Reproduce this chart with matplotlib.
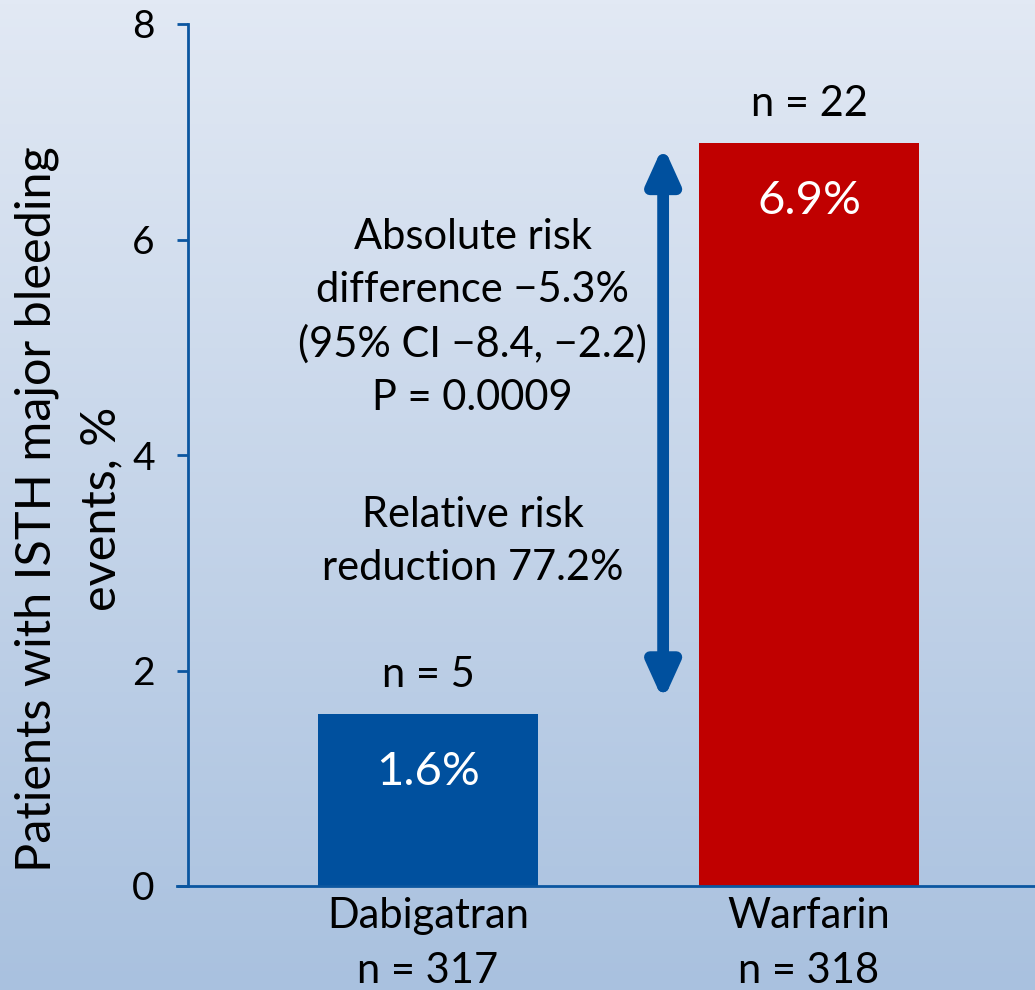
import numpy as np
import matplotlib
matplotlib.use("Agg")
import matplotlib.pyplot as plt

# data
groups = ["Dabigatran", "Warfarin"]
group_n = [317, 318]
event_pct = [1.6, 6.9]
event_n = [5, 22]
bar_colors = ["#00509E", "#C00000"]
y_ticks = [0, 2, 4, 6, 8]

abs_text = "Absolute risk\ndifference \u22125.3%\n(95% CI \u22128.4, \u22122.2)\nP = 0.0009"
rel_text = "Relative risk\nreduction 77.2%"

axis_blue = "#0B56A0"
plt.rcParams["font.family"] = ["Lato", "DejaVu Sans"]

fig = plt.figure(figsize=(10.35, 9.9), dpi=100)

# background gradient
bg = fig.add_axes([0, 0, 1, 1], zorder=-10)
grad = np.linspace(0, 1, 256).reshape(-1, 1)
top = np.array([0xE2, 0xE9, 0xF4]) / 255
bot = np.array([0xA9, 0xC1, 0xDF]) / 255
img = top + (bot - top) * grad[:, :, None]
bg.imshow(img, aspect="auto", extent=[0, 1, 0, 1])
bg.axis("off")

ax = fig.add_axes([188 / 1035, 104 / 990, 1 - 188 / 1035, 862 / 990])
ax.patch.set_alpha(0)

x = np.arange(len(groups))
ax.bar(x, event_pct, width=0.578, color=bar_colors, zorder=2)

ax.set_xlim(-0.63, 1.593)
ax.set_ylim(0, 8)
ax.set_yticks(y_ticks)
ax.set_yticklabels([str(t) for t in y_ticks], fontsize=28)
ax.set_xticks(x)
ax.set_xticklabels([f"{g}\nn = {n}" for g, n in zip(groups, group_n)],
                   fontsize=30, linespacing=1.55)
ax.tick_params(axis="x", length=0, pad=8)
ax.tick_params(axis="y", length=8, width=2, color=axis_blue, pad=16)

for s in ["top", "right"]:
    ax.spines[s].set_visible(False)
for s in ["left", "bottom"]:
    ax.spines[s].set_color(axis_blue)
    ax.spines[s].set_linewidth(2)
ax.spines["bottom"].set_bounds(-0.66, 1.593)

# labels on bars
for xi, v, n in zip(x, event_pct, event_n):
    ax.annotate(f"{v}%", (xi, v), xytext=(0, -42), textcoords="offset points",
                ha="center", va="center", color="white", fontsize=34)
    ax.annotate(f"n = {n}", (xi, v), xytext=(0, 28), textcoords="offset points",
                ha="center", va="center", color="black", fontsize=30)

# double arrow between the two bars
ax.annotate("", xy=(0.617, event_pct[1] - 0.03), xytext=(0.617, event_pct[0] + 0.12),
            arrowprops=dict(arrowstyle="<|-|>,head_length=2.1,head_width=0.95",
                            lw=8.5, color="#00509E", shrinkA=0, shrinkB=0,
                            mutation_scale=10))

ax.text(0.117, 5.276, abs_text, ha="center", va="center", fontsize=30,
        linespacing=1.48)
ax.text(0.117, 3.197, rel_text, ha="center", va="center", fontsize=30,
        linespacing=1.48)

fig.text(69 / 1035, 1 - 509 / 990, "Patients with ISTH major bleeding\nevents, %",
         rotation=90, ha="center", va="center", fontsize=35, linespacing=1.55)

fig.savefig("out.png", dpi=100)
